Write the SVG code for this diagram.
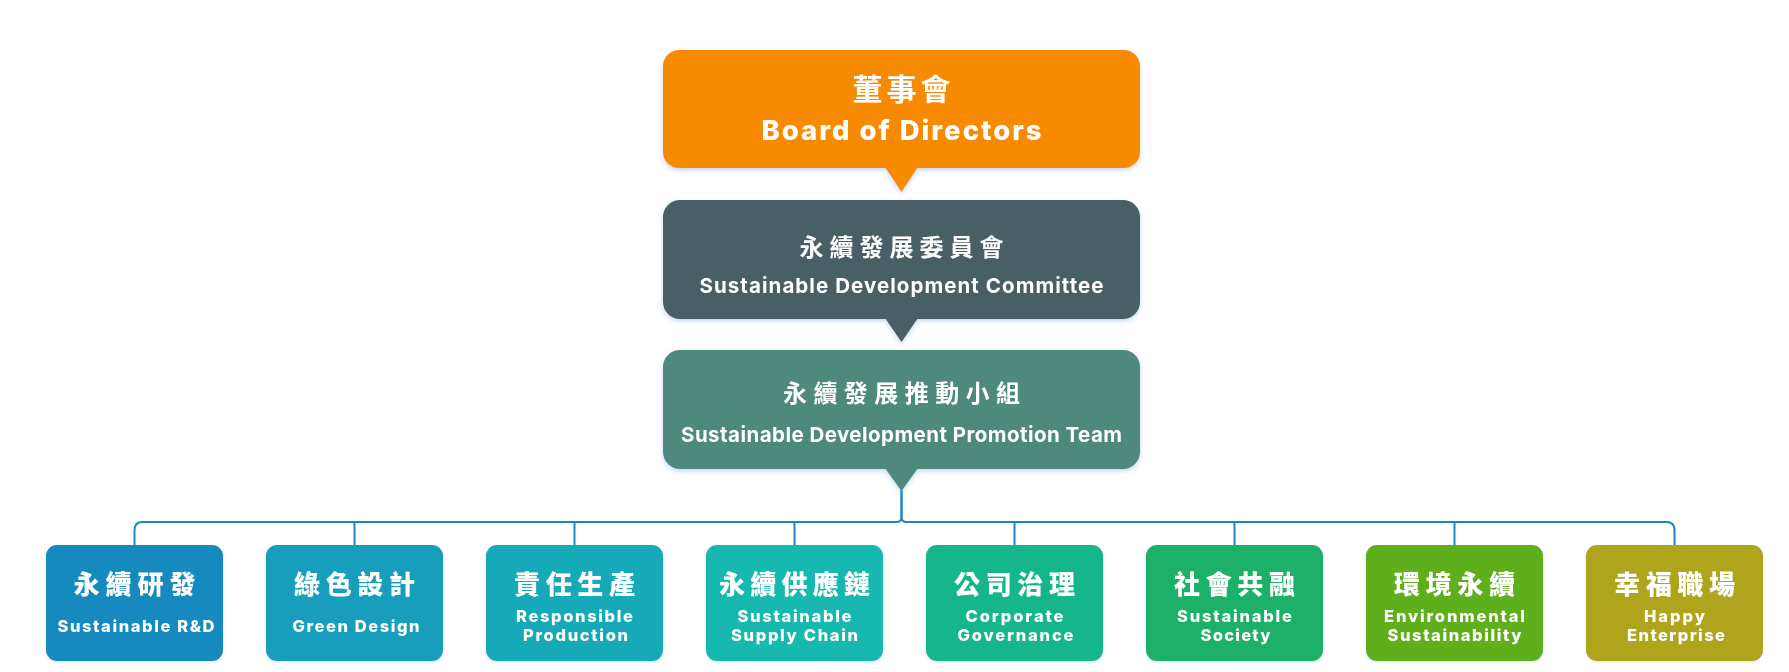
<svg xmlns="http://www.w3.org/2000/svg" width="1789" height="672" viewBox="0 0 1789 672">
<defs>
<filter id="sh" x="-10%" y="-20%" width="120%" height="150%">
<feDropShadow dx="0" dy="2" stdDeviation="2.5" flood-color="#7f9fe0" flood-opacity="0.45"/>
</filter>
<filter id="sh2" x="-10%" y="-10%" width="120%" height="130%">
<feDropShadow dx="0" dy="1" stdDeviation="1.5" flood-color="#7f9fe0" flood-opacity="0.3"/>
</filter>
<style>
.zh{font-family:"Noto Sans CJK TC","Noto Sans CJK SC",sans-serif;font-weight:700;fill:#fff;text-anchor:middle}
.en{font-family:Inter,"Open Sans","Liberation Sans",sans-serif;font-weight:700;fill:#fff;text-anchor:middle}
.top .zh{font-size:24px}
.top .en{font-size:20.5px}
.box .zh{font-size:26px;font-weight:900}
.box .en{font-size:16.5px;font-weight:800}
.conn{fill:none;stroke:#1b87bf;stroke-width:2}
</style>
</defs>
<rect width="1789" height="672" fill="#fff"/>
<g id="connectors">
<path class="conn" d="M901.5 490 V517 Q901.5 522 896.5 522 H142.5 Q134.5 522 134.5 530 V545"/>
<path class="conn" d="M901.5 490 V517 Q901.5 522 906.5 522 H1666.5 Q1674.5 522 1674.5 530 V545"/>
<path class="conn" d="M354.5 522 V545 M574.5 522 V545 M794.5 522 V545 M1014.5 522 V545 M1234.5 522 V545 M1454.5 522 V545"/>
</g>
<g id="board" class="top" filter="url(#sh)">
<rect x="663" y="50" width="477" height="118" rx="16" fill="#f88a00"/>
<polygon points="885,167 918,167 901.5,192" fill="#f88a00"/>
<text class="zh" x="901.5" y="100" style="font-size:30px" textLength="98" lengthAdjust="spacing">董事會</text>
<text class="en" x="901.5" y="140" style="font-size:27.5px;font-weight:800" textLength="280" lengthAdjust="spacing">Board of Directors</text>
</g>
<g id="committee" class="top" filter="url(#sh)">
<rect x="663" y="200" width="477" height="119" rx="17" fill="#4a5e66"/>
<polygon points="885,318 918,318 901.5,342" fill="#4a5e66"/>
<text class="zh" x="901.5" y="256" textLength="204" lengthAdjust="spacing">永續發展委員會</text>
<text class="en" x="901.5" y="293" textLength="404" lengthAdjust="spacing">Sustainable Development Committee</text>
</g>
<g id="team" class="top" filter="url(#sh)">
<rect x="663" y="350" width="477" height="119" rx="17" fill="#4d8a7c"/>
<polygon points="885,468 918,468 901.5,491" fill="#4d8a7c"/>
<text class="zh" x="901.5" y="402" textLength="237" lengthAdjust="spacing">永續發展推動小組</text>
<text class="en" x="901.5" y="442" textLength="441" lengthAdjust="spacing">Sustainable Development Promotion Team</text>
</g>
<g id="rd" class="box" filter="url(#sh2)">
<rect x="46" y="545" width="177" height="116" rx="11" fill="#1289be"/>
<text class="zh" x="134.5" y="594" textLength="122" lengthAdjust="spacing">永續研發</text>
<text class="en" x="136" y="632" textLength="157" lengthAdjust="spacing">Sustainable R&amp;D</text>
</g>
<g id="green" class="box" filter="url(#sh2)">
<rect x="266" y="545" width="177" height="116" rx="11" fill="#149ebc"/>
<text class="zh" x="354.5" y="594" textLength="121" lengthAdjust="spacing">綠色設計</text>
<text class="en" x="356" y="632" textLength="127" lengthAdjust="spacing">Green Design</text>
</g>
<g id="production" class="box" filter="url(#sh2)">
<rect x="486" y="545" width="177" height="116" rx="11" fill="#15aab9"/>
<text class="zh" x="574.5" y="594" textLength="121" lengthAdjust="spacing">責任生產</text>
<text class="en" x="574.5" y="622" textLength="117" lengthAdjust="spacing">Responsible</text>
<text class="en" x="575.5" y="641" textLength="105" lengthAdjust="spacing">Production</text>
</g>
<g id="supply" class="box" filter="url(#sh2)">
<rect x="706" y="545" width="177" height="116" rx="11" fill="#17b8af"/>
<text class="zh" x="794.5" y="594" textLength="151" lengthAdjust="spacing">永續供應鏈</text>
<text class="en" x="794.5" y="622" textLength="114" lengthAdjust="spacing">Sustainable</text>
<text class="en" x="794.5" y="641" textLength="127" lengthAdjust="spacing">Supply Chain</text>
</g>
<g id="governance" class="box" filter="url(#sh2)">
<rect x="926" y="545" width="177" height="116" rx="11" fill="#17b68b"/>
<text class="zh" x="1014.5" y="594" textLength="121" lengthAdjust="spacing">公司治理</text>
<text class="en" x="1014.5" y="622" textLength="98" lengthAdjust="spacing">Corporate</text>
<text class="en" x="1015.5" y="641" textLength="116" lengthAdjust="spacing">Governance</text>
</g>
<g id="society" class="box" filter="url(#sh2)">
<rect x="1146" y="545" width="177" height="116" rx="11" fill="#1ab068"/>
<text class="zh" x="1234.5" y="594" textLength="121" lengthAdjust="spacing">社會共融</text>
<text class="en" x="1234.5" y="622" textLength="115" lengthAdjust="spacing">Sustainable</text>
<text class="en" x="1235.5" y="641" textLength="70" lengthAdjust="spacing">Society</text>
</g>
<g id="environment" class="box" filter="url(#sh2)">
<rect x="1366" y="545" width="177" height="116" rx="11" fill="#5fae1b"/>
<text class="zh" x="1454.5" y="594" textLength="121" lengthAdjust="spacing">環境永續</text>
<text class="en" x="1454.5" y="622" textLength="141" lengthAdjust="spacing">Environmental</text>
<text class="en" x="1454.5" y="641" textLength="134" lengthAdjust="spacing">Sustainability</text>
</g>
<g id="happy" class="box" filter="url(#sh2)">
<rect x="1586" y="545" width="177" height="116" rx="11" fill="#afa51e"/>
<text class="zh" x="1674.5" y="594" textLength="121" lengthAdjust="spacing">幸福職場</text>
<text class="en" x="1674.5" y="622" textLength="61" lengthAdjust="spacing">Happy</text>
<text class="en" x="1676" y="641" textLength="98" lengthAdjust="spacing">Enterprise</text>
</g>
</svg>
